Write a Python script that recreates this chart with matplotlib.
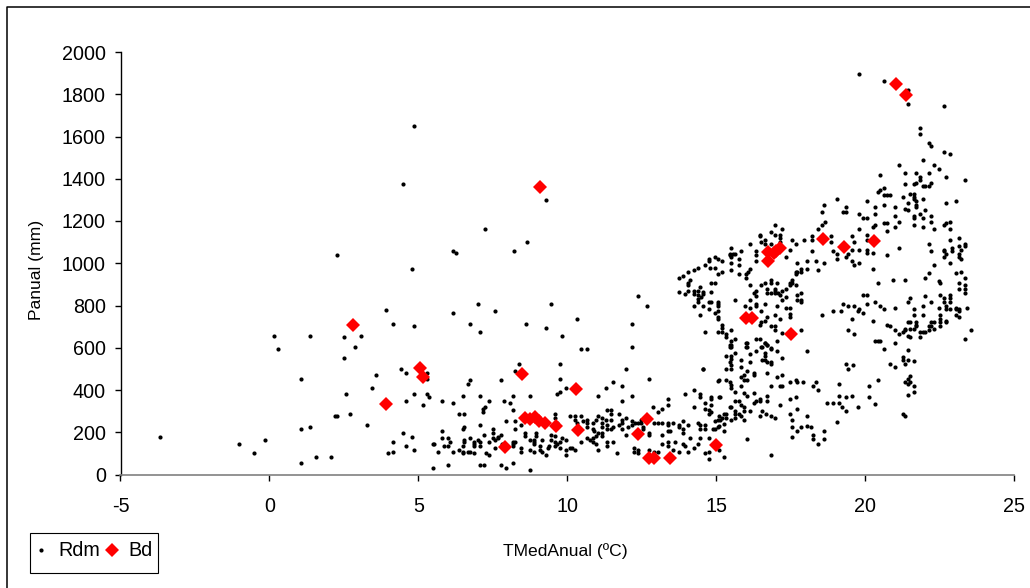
import matplotlib
matplotlib.use('Agg')
import matplotlib.pyplot as plt
from matplotlib.lines import Line2D
from matplotlib.patches import Rectangle

plt.rcParams['font.family'] = ['Liberation Sans', 'DejaVu Sans']
plt.rcParams['axes.unicode_minus'] = False

# Rdm stations as (TMedAnual, Panual)
rdm_left = [(4.78,975),(3.9,781),(4.16,711),(4.85,701),(0.17,657),(1.37,657),(2.51,649),(3.08,657),(0.3,595),(2.89,605),
    (2.51,551),(1.06,453),(3.58,471),(4.41,498),(4.59,480),(3.46,409),(2.58,382),(4.85,382),(4.59,348),(2.21,277),
    (2.27,277),(2.7,286),(3.26,233),(1.06,215),(1.37,224),(-3.67,179),(-1.02,144),(-0.14,162),(-0.52,100),(4.47,196),
    (4.78,179),(4.16,152),(4.59,135),(4.85,117),(3.97,100),(4.16,108),(1.56,81),(2.06,81),(1.06,56),
    (4.85,1649),(4.47,1375),(2.27,1039),(9.3,1300),(7.23,1160),(8.64,1100),(8.2,1057),(6.15,1057),(6.27,1050)]

rdm_scatter = [(7.0,808),(6.17,764),(7.57,774),(6.74,711),(7.06,676),(9.46,808),(8.63,711),(9.27,693),(9.84,657),(10.34,737),
    (10.47,595),(10.66,595),(12.16,711),(12.16,605),(12.36,845),(12.67,799),(8.37,524),(8.26,490),(9.77,524),(9.77,453),
    (11.98,499),(12.73,453),(7.76,445),(6.74,445),(6.68,427),(9.96,409),(9.77,392),(9.65,382),(11.29,409),(11.54,436),
    (11.85,419),(11.03,373),(12.16,373),(11.85,348),(6.49,373),(7.06,373),(8.19,373),(8.76,373),(7.38,348),(7.88,348),
    (8.07,338),(5.79,348),(6.17,338),(7.23,321),(7.18,311),(7.18,294),(8.19,304),(6.36,286),(6.55,286),(5.29,480),
    (5.29,453),(5.29,382),(5.35,365),(5.16,330),(13.37,356),(13.37,330),(13.18,311),(12.87,321),(13.06,294),(13.94,382),
    (14.26,400),(14.45,382),(14.45,365),(14.82,365),(14.82,356),(14.63,338),(14.26,321),(14.82,330),(14.75,304),(14.82,294),
    (14.75,286),(14.63,311),(15.08,365),(15.06,444),(14.57,499)]

rdm_band = [(10.08,277),(10.27,277),(10.47,277),(10.27,259),(10.34,242),(10.53,252),(10.66,259),(11.03,277),(11.16,269),(11.29,259),
    (10.97,259),(11.35,304),(11.48,304),(11.48,286),(11.73,286),(11.97,269),(11.85,259),(11.85,242),(11.73,233),(11.48,259),
    (11.16,242),(10.85,242),(10.66,242),(10.85,215),(10.66,224),(10.91,207),(11.16,224),(11.35,233),(11.48,215),(11.35,215),
    (11.54,224),(12.04,224),(12.16,233),(12.16,252),(12.29,242),(12.36,242),(12.48,259),(12.48,242),(12.55,215),(12.55,224),
    (11.97,188),(11.85,215),(11.03,198),(11.16,198),(10.97,181),(11.16,181),(10.85,171),(10.66,171),(10.75,162),(10.85,154),
    (10.97,144),(11.03,117),(10.47,154),(11.35,154),(11.54,154),(11.35,135),(11.66,100),(12.23,127),(12.36,117),(12.23,108),
    (12.36,100),(12.73,198),(12.73,188),(12.92,242),(13.06,242),(13.18,242),(13.37,242),(13.37,233),(13.56,242),(13.18,188),
    (13.37,207),(13.44,207),(13.37,154),(13.37,135),(13.18,144),(13.63,154),(12.73,117),(12.92,108),(13.06,108),(13.56,117),
    (13.75,108),(13.88,144),(13.94,135),(14.07,108),(14.26,127),(14.38,144),(14.12,171),(14.45,171),(14.76,171),(14.64,100),
    (14.76,73),(14.76,108),(13.75,233),(13.75,224),(13.88,215),(13.88,198),(13.88,252),(14.07,233),(14.38,242),(14.45,233),
    (14.45,215),(14.64,233),(14.64,215),(14.95,215),(14.95,252),(15.06,259),(15.06,224),
    (5.79,207),(5.79,171),(5.98,171),(6.05,154),(5.48,144),(5.54,144),(5.86,135),(5.98,135),(5.67,108),(6.17,108),
    (6.36,117),(6.49,135),(6.55,154),(6.55,162),(6.74,171),(6.49,108),(6.49,100),(6.68,108),(6.74,108),(6.87,100),
    (6.87,154),(6.87,144),(7.0,162),(7.06,154),(7.06,135),(6.87,135),(7.26,100),(7.38,91),(7.38,154),(7.5,215),
    (7.5,198),(7.5,171),(7.57,162),(7.69,171),(7.76,188),(7.69,179),(7.19,188),(6.55,224),(6.49,215),(7.06,233),
    (7.94,252),(8.26,252),(8.26,215),(8.44,233),(8.57,198),(8.57,181),(8.76,162),(8.89,162),(8.95,198),(8.95,181),
    (8.89,144),(8.89,154),(9.14,162),(9.08,135),(9.14,108),(9.27,91),(9.08,117),(9.4,135),(9.34,127),(9.46,188),
    (9.59,181),(9.46,162),(9.59,154),(9.77,154),(9.84,171),(9.96,162),(9.65,144),(9.59,135),(9.77,127),(9.96,117),
    (10.08,127),(10.15,127),(10.27,117),(9.96,91),(8.19,154),(8.26,154),(8.19,144),(8.44,127),(8.44,108),(8.76,117),
    (8.89,108),(7.81,144),(7.57,127),(8.19,135),(9.58,286),(9.58,269),(9.65,242),(5.48,29),(5.98,47),(7.06,47),
    (7.19,47),(7.76,47),(7.94,29),(8.19,56),(8.76,20)]

rdm_arc = [(14.64,993),(14.78,976),(14.95,976),(14.76,1012),(14.38,976),(14.26,966),(14.07,958),(13.88,941),(13.75,931),(14.12,922),
    (14.07,905),(14.07,895),(14.45,887),(14.07,868),(13.94,854),(13.75,862),(14.26,868),(14.38,868),(14.26,854),(14.38,851),
    (14.57,854),(14.5,841),(14.38,833),(14.57,862),(14.82,862),(14.82,905),(14.95,905),(14.26,799),(14.38,817),(14.57,799),
    (14.76,817),(14.83,817),(14.76,782),(14.95,764),(15.06,772),(15.06,747),(15.06,737),(14.45,755),(14.64,676),(15.06,676),
    (14.95,1029),(14.76,1020),(15.07,1020),(15.2,958),(15.07,949)]

rdm_mid = [(16.97,1181),(17.22,1163),(16.46,1136),(16.46,1127),(16.84,1146),(16.97,1136),(17.15,1136),(17.15,1119),(17.15,1102),(17.53,1110),
    (17.67,1092),(16.15,1092),(16.52,1102),(16.65,1110),(16.65,1092),(16.84,1092),(17.95,1110),(18.23,1128),(18.23,1110),(18.43,1163),
    (18.55,1181),(18.67,1196),(18.86,1128),(18.86,1102),(18.23,1056),(18.93,1056),(19.05,1046),(19.05,1020),(17.47,1065),(17.34,1029),
    (17.72,1002),(18.05,1012),(18.36,1012),(18.61,1002),(18.43,967),(18.05,975),(17.86,975),(17.86,958),(17.72,958),(17.67,949),
    (17.67,958),(15.51,1073),(15.82,1056),(16.33,1056),(16.33,1038),(16.33,1012),(16.15,975),(16.08,958),(16.01,949),(16.01,931),
    (15.76,949),(15.51,967),(15.51,1002),(15.76,1020),(15.76,994),(15.45,1046),(15.45,1038),(15.57,1046),(15.64,1046),(15.51,1029),
    (15.2,1012),(16.15,897),(16.52,897),(16.65,905),(16.84,923),(16.84,905),(17.03,905),(17.53,923),(17.47,905),(17.53,905),
    (17.67,897),(17.47,895),(17.34,878),(17.22,868),(16.97,878),(16.97,868),(16.71,878),(16.71,860),(16.84,860),(16.97,860),
    (17.09,860),(17.15,851),(17.22,826),(17.34,841),(16.33,868),(16.27,860),(16.33,843),(16.15,826),(16.33,807),(16.33,797),
    (15.96,797),(15.64,826),(16.65,807),(17.03,797),(16.52,773),(16.15,789),(17.72,851),(17.86,860),(17.72,826),(17.86,826),
    (17.86,816),(17.34,789),(17.47,789),(17.47,762),(17.47,746),(18.93,773),(18.55,755),(15.07,816),(15.07,807),(15.07,797),
    (15.2,710),(15.2,693),(15.2,676),(15.33,666),(15.51,684),(15.33,649),(15.64,640),(15.51,630),(15.45,613),(15.45,603),
    (16.01,622),(16.01,605),(16.33,640),(16.46,640),(16.65,622),(16.71,613),(16.84,595),(16.52,605),(17.03,630),(16.84,703),
    (16.97,703),(16.97,684),(16.46,710),(16.65,728),(16.71,746),(16.52,720),(16.97,755),(17.15,737),(17.86,684),(17.22,668)]

rdm_low = [(15.51,602),(15.51,612),(16.02,624),(16.02,605),(16.34,586),(16.53,605),(16.65,624),(16.72,614),(16.84,597),(17.03,586),
    (15.64,577),(16.14,570),(16.65,577),(16.65,560),(15.33,560),(15.51,560),(15.51,549),(15.45,533),(15.83,541),(16.14,533),
    (16.53,541),(16.65,541),(16.72,533),(16.84,533),(16.84,524),(17.22,551),(15.83,507),(15.51,516),(15.51,498),(15.33,498),
    (16.02,490),(16.27,480),(16.27,471),(15.83,463),(15.95,471),(16.72,480),(17.03,463),(17.22,471),(14.57,498),(15.95,445),
    (16.02,445),(15.83,420),(15.33,445),(15.09,445),(15.45,436),(15.51,426),(15.51,409),(15.64,392),(16.84,419),(17.15,419),
    (17.22,419),(17.47,436),(17.67,445),(17.73,436),(17.91,436),(18.36,436),(18.24,419),(18.43,400),(19.37,524),(19.61,516),
    (19.43,498),(19.11,428),(19.11,373),(19.37,365),(19.56,373),(19.11,338),(18.92,338),(18.73,338),(19.24,321),(19.37,302),
    (19.75,321),(20.12,419),(20.12,365),(19.05,250),(17.47,356),(17.67,365),(17.15,329),(17.73,311),(17.47,285),(17.53,258),
    (18.05,277),(17.53,223),(17.86,223),(18.05,231),(18.17,223),(17.73,206),(17.53,179),(18.24,187),(18.24,170),(18.43,144),
    (18.61,206),(18.61,170),(16.27,384),(15.95,384),(16.02,373),(16.72,373),(16.72,348),(16.46,356),(16.46,348),(16.34,348),
    (16.27,337),(16.14,302),(15.95,321),(15.95,302),(15.76,348),(15.64,348),(15.83,329),(15.51,321),(15.45,321),(15.14,365),
    (15.95,258),(15.83,277),(15.64,302),(15.64,285),(15.76,285),(15.64,266),(15.51,258),(15.33,285),(15.26,285),(15.33,266),
    (15.21,266),(15.26,240),(15.14,258),(15.09,275),(15.09,231),(15.26,206),(14.9,214),(16.53,302),(16.66,285),(16.84,277),
    (16.97,266),(16.46,277),(16.02,170),(16.84,91),(15.26,81),(15.09,116),(18.05,586)]

rdm_top = [(19.81,1898),(20.63,1862),(21.45,1819),(21.45,1756),(22.66,1746),(21.83,1641),(21.83,1614),(22.15,1570),(22.21,1553),(22.66,1526),
    (22.85,1516),(21.96,1490),(21.14,1463),(22.33,1463),(22.47,1446),(21.33,1428),(21.7,1428),(22.15,1428),(20.51,1418),(21.83,1409),
    (22.72,1409),(23.35,1392),(21.83,1392),(21.7,1382),(22.21,1382),(21.64,1374),(21.33,1374),(21.96,1365),(22.02,1365),(22.15,1365),
    (20.63,1357),(20.51,1348),(20.44,1338),(21.52,1330),(21.64,1330),(20.63,1321),(20.75,1321),(20.82,1321),(21.26,1313),(21.64,1313),
    (21.64,1304),(21.96,1304),(21.7,1294),(21.45,1286),(22.72,1286),(23.04,1294),(20.06,1294),(21.7,1277),(21.7,1267),(20.63,1277),
    (20.32,1267),(21.01,1267),(21.33,1259),(21.45,1250),(22.02,1250),(18.61,1277),(19.06,1304),(19.37,1267),(19.25,1242),(19.37,1242),
    (18.55,1242),(19.81,1233),(19.94,1215),(20.06,1215),(20.32,1233),(21.01,1223),(21.64,1223),(21.64,1215),(21.83,1233),(21.96,1215),
    (22.21,1223)]

rdm_right = [(19.81,1162),(20.25,1173),(20.32,1181),(20.63,1190),(20.75,1190),(21.14,1196),(21.01,1173),(20.75,1154),(21.64,1181),(21.96,1173),
    (22.21,1196),(22.33,1163),(22.66,1181),(22.72,1190),(22.85,1196),(22.85,1163),(19.56,1128),(19.63,1102),(20.06,1136),(20.06,1110),
    (19.56,1065),(19.81,1065),(20.06,1065),(20.06,1048),(20.25,1048),(19.42,1046),(19.37,1029),(19.56,1012),(19.63,994),(19.81,1002),
    (20.25,975),(20.75,1038),(21.14,1073),(22.85,1110),(23.15,1119),(23.15,1083),(23.35,1092),(23.35,1083),(22.15,1092),(22.21,1056),
    (22.66,1065),(22.66,1056),(22.72,1046),(22.66,1029),(22.92,1073),(22.92,1056),(23.15,1046),(23.15,1029),(23.22,1065),(23.22,1020),
    (22.85,1002),(22.33,994),(22.15,952),(22.02,931),(23.04,952),(23.22,958),(23.35,931),(22.47,914),(22.53,905),(23.15,905),
    (23.35,897),(23.35,878),(23.15,878),(23.35,860),(20.44,905),(20.94,922),(21.33,922),(19.94,852),(20.06,852),(22.53,852),
    (22.85,852),(22.02,843),(21.52,834),(22.66,834),(22.85,834),(22.66,816),(22.85,816),(21.45,816),(22.21,816),(20.32,816),
    (19.25,807),(19.44,799),(19.63,799),(20.06,807),(20.51,799),(20.63,782),(21.01,789),(21.64,782),(21.96,799),(22.47,789),
    (22.72,799),(22.72,782),(22.85,782),(23.04,789),(23.04,782),(23.15,782),(23.15,772),(23.42,789),(23.04,755),(23.15,746),
    (19.81,782),(19.75,772),(19.94,763),(19.2,772),(19.56,737),(20.25,728),(21.64,755),(21.96,755),(22.53,755),(22.53,737),
    (22.72,728),(22.72,720),(22.53,720),(22.33,720),(22.21,720),(21.7,720),(21.45,720),(21.52,720),(21.7,710),(20.75,710),
    (20.82,701),(21.01,684),(21.33,691),(21.52,691),(21.64,691),(21.7,701),(22.15,701),(22.33,691),(22.53,701),(22.21,701),
    (23.55,684),(21.33,684),(21.26,674),(21.14,666),(21.45,657),(21.52,649),(21.83,674),(21.83,649),(21.96,674),(22.02,674),
    (22.15,684),(19.44,684),(19.63,666),(23.35,640),(20.32,630),(20.44,630),(20.51,630),(21.01,622),(20.63,595),(21.45,587),
    (21.26,554),(21.26,542),(21.33,524),(21.45,542),(21.64,535),(20.82,524),(21.01,507),(21.52,467),(21.45,453),(21.33,436),
    (21.45,428),(21.52,436),(21.64,419),(21.64,392),(21.45,375),(20.44,445),(20.32,332),(21.26,286),(21.33,277)]

# Bd stations
bd_x = [2.79,3.93,5.05,5.14,8.47,10.31,7.9,8.58,8.74,8.91,9.06,9.25,9.62,10.36,12.69,12.38,12.73,12.91,13.46,15.0,
    9.1,21.05,21.36,18.6,19.28,20.29,16.74,16.74,16.95,17.02,17.15,15.99,16.21,17.5]
bd_y = [707,334,502,460,476,406,130,267,265,270,253,245,229,209,262,193,78,78,78,141,
    1360,1849,1795,1114,1078,1103,1051,1012,1050,1060,1072,741,741,663]

x_ticks = [-5, 0, 5, 10, 15, 20, 25]
y_ticks = list(range(0, 2001, 200))

rdm = rdm_left + rdm_scatter + rdm_band + rdm_arc + rdm_mid + rdm_low + rdm_top + rdm_right
rdm_x = [p[0] for p in rdm]
rdm_y = [p[1] for p in rdm]

fig = plt.figure(figsize=(10.30, 5.88), dpi=100)
W, H = 1030.0, 588.0
ax = fig.add_axes([120.5/W, 1 - 474.5/H, 893.5/W, 422.5/H])

rdm_line, = ax.plot(rdm_x, rdm_y, ls='none', marker='o', ms=3.0, color='black', mew=0, label='Rdm', clip_on=False)
bd_line, = ax.plot(bd_x, bd_y, ls='none', marker='D', ms=7.6, color='#ff0000', mew=0, label='Bd', clip_on=False)

ax.set_xlim(-5, 25)
ax.set_ylim(0, 2000)
ax.set_xticks(x_ticks)
ax.set_yticks(y_ticks)
ax.tick_params(labelsize=14.2, length=4, width=1, color='black')
ax.tick_params(axis='x', pad=12)
ax.tick_params(axis='y', pad=6.5)
ax.spines['top'].set_visible(False)
ax.spines['right'].set_visible(False)
ax.spines['left'].set_linewidth(1)
ax.spines['bottom'].set_linewidth(1.2)
ax.spines['bottom'].set_color('#808080')

fig.text(37/W, 1 - 270/H, 'Panual (mm)', rotation=90, fontsize=12.6, ha='center', va='center')
fig.text(565/W, 1 - 551/H, 'TMedAnual (ºC)', fontsize=12.6, ha='center', va='center')

# outer chart frame, only top and left show
fig.add_artist(Line2D([6.5/W, 6.5/W, 1], [0, 1 - 6.5/H, 1 - 6.5/H], transform=fig.transFigure, color='black', lw=1.1))

# legend box
fig.add_artist(Rectangle((29.5/W, 1 - 572.5/H), 128/W, 40/H, transform=fig.transFigure,
                         fill=False, ec='black', lw=0.8))
leg = fig.legend(handles=[rdm_line, bd_line], loc='center', ncol=2,
                 bbox_to_anchor=(92/W, 1 - 551/H), frameon=False, fontsize=14.2,
                 handlelength=1.0, handletextpad=0.35, columnspacing=0.1, borderpad=0)

fig.savefig('out.png', dpi=100)
